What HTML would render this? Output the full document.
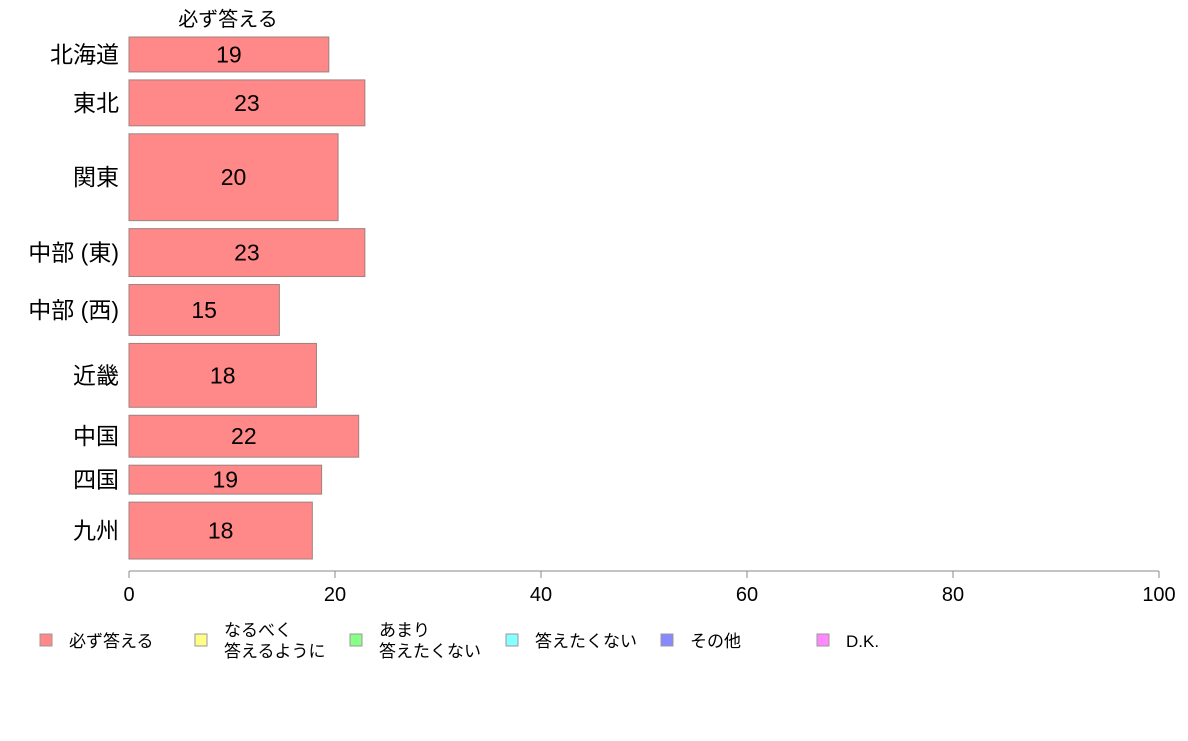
<!DOCTYPE html>
<html><head><meta charset="utf-8">
<style>
body{margin:0;background:#fff;}
svg text{font-family:"Liberation Sans","Noto Sans CJK JP",sans-serif;}
</style></head>
<body>
<svg id="chart" width="1188" height="736" xmlns="http://www.w3.org/2000/svg">
<text x="228" y="26" font-size="20" text-anchor="middle" fill="#000">必ず答える</text>
<g id="bars"></g>
<g id="axis"></g>
<g id="legend"></g>
</svg>
<script>
const categories = ["北海道","東北","関東","中部 (東)","中部 (西)","近畿","中国","四国","九州"];
const values = [19.4, 22.9, 20.3, 22.9, 14.6, 18.2, 22.3, 18.7, 17.8];
const labels = ["19","23","20","23","15","18","22","19","18"];
const sampleSizes = [35, 46, 87, 48, 51, 64, 42, 29, 57];
const xTicks = [0, 20, 40, 60, 80, 100];
const legendLabels = [["必ず答える"],["なるべく","答えるように"],["あまり","答えたくない"],["答えたくない"],["その他"],["D.K."]];
const legendColors = ["#FF8888","#FFFF88","#88FF88","#88FFFF","#8888FF","#FF88FF"];

const NS = "http://www.w3.org/2000/svg";
const x0 = 129, x1 = 1159, yTop = 37, yBot = 559, gap = 8;
const xScale = v => x0 + (v / 100) * (x1 - x0);
const totalN = sampleSizes.reduce((a, b) => a + b, 0);
const hUnit = (yBot - yTop - gap * (categories.length - 1)) / totalN;
function mk(tag, attrs, parent) {
  const e = document.createElementNS(NS, tag);
  for (const k in attrs) e.setAttribute(k, attrs[k]);
  parent.appendChild(e);
  return e;
}
const bars = document.getElementById("bars");
let y = yTop;
categories.forEach((c, i) => {
  const h = sampleSizes[i] * hUnit;
  const r = mk("rect", {x: x0, y: y, width: xScale(values[i]) - x0, height: h, fill: "#FF8888", stroke: "#A08080", "stroke-width": 1}, bars);
  
  
  const t = mk("text", {x: (x0 + xScale(values[i])) / 2, y: y + h / 2 + 8, "font-size": 23, "text-anchor": "middle"}, bars);
  t.textContent = labels[i];
  
  
  const cl = mk("text", {x: 119, y: y + h / 2 + 8, "font-size": 23, "text-anchor": "end"}, bars);
  cl.textContent = c;
  
  
  y += h + gap;
});
const axis = document.getElementById("axis");
const al = mk("line", {x1: x0, x2: x1, y1: 571, y2: 571, stroke: "#888", "stroke-width": 1}, axis);


xTicks.forEach(v => {
  const tk = mk("line", {x1: xScale(v), x2: xScale(v), y1: 571, y2: 578, stroke: "#888"}, axis);
  
  
  const tl = mk("text", {x: xScale(v), y: 601, "font-size": 20, "text-anchor": "middle"}, axis);
  tl.textContent = v;
  
  
});
const legend = document.getElementById("legend");
const lx = [40, 195, 350, 506, 661, 817];
legendLabels.forEach((lines, i) => {
  const sw = mk("rect", {x: lx[i], y: 634, width: 12, height: 12, fill: legendColors[i], stroke: "#999"}, legend);
  
  
  const t = mk("text", {x: lx[i] + 29, "font-size": 17}, legend);
  
  
  lines.forEach((ln, j) => {
    const ts = mk("tspan", {x: lx[i] + 29, y: lines.length === 1 ? 647 : 636 + j * 21}, t);
    ts.textContent = ln;
  });
});
</script>
</body></html>
